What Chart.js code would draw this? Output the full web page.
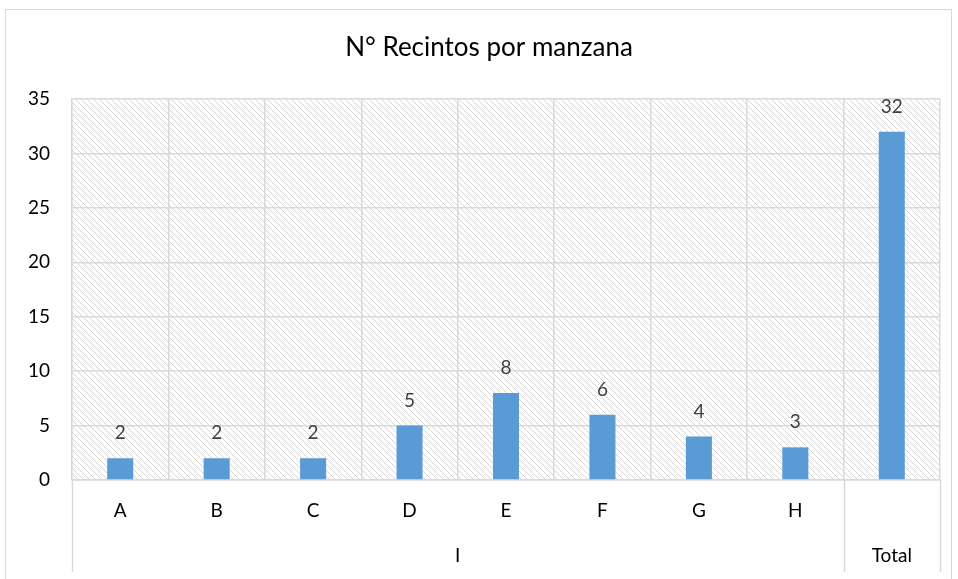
<!DOCTYPE html>
<html>
<head>
<meta charset="utf-8">
<script src="https://cdn.jsdelivr.net/npm/chart.js@4.4.1/dist/chart.umd.min.js"></script>
<style>
  html, body { margin: 0; padding: 0; background: #fff; }
  #wrap { width: 958px; height: 579px; position: relative; }
</style>
</head>
<body>
<div id="wrap"><canvas id="chart"></canvas></div>
<script>
// datos del grafico
const titulo = 'N° Recintos por manzana';
const categorias = ['A', 'B', 'C', 'D', 'E', 'F', 'G', 'H', 'Total'];
const grupos = ['I', 'I', 'I', 'I', 'I', 'I', 'I', 'I', ''];
const recintos = [2, 2, 2, 5, 8, 6, 4, 3, 32];
const ticksY = [0, 5, 10, 15, 20, 25, 30, 35];

const fuente = 'Lato, "Open Sans", sans-serif';
const gris = '#d9d9d9';

// etiquetas de dos lineas: la categoria arriba, "Total" abajo
let etiquetas = categorias.map((c, i) => grupos[i] ? [c, ''] : ['', c]);

// trama diagonal del area de trazado
let hacerTrama = () => {
  let t = document.createElement('canvas');
  t.width = 6; t.height = 6;
  let c = t.getContext('2d');
  c.fillStyle = '#fff';
  c.fillRect(0, 0, 6, 6);
  c.fillStyle = '#d6d6d6';
  for (let i = 0; i < 6; i++) {
    c.fillRect(i, i, 1, 1);
  }
  return c.createPattern(t, 'repeat');
};

let fondo = {
  id: 'fondo',
  beforeDraw(chart) {
    let ctx = chart.ctx;
    let a = chart.chartArea;
    ctx.save();
    ctx.fillStyle = '#fff';
    ctx.fillRect(0, 0, chart.width, chart.height);
    ctx.strokeStyle = gris;
    ctx.lineWidth = 1;
    ctx.strokeRect(5.5, 9.5, 946, 620);
    ctx.fillStyle = chart.$trama;
    ctx.fillRect(a.left, a.top, a.right - a.left, a.bottom - a.top);
    // titulo (centrado sobre el marco del grafico, no sobre el canvas)
    ctx.fillStyle = '#000';
    ctx.font = '26px ' + fuente;
    ctx.textAlign = 'center';
    ctx.textBaseline = 'middle';
    ctx.fillText(titulo, 489, 48);
    ctx.restore();
  }
};

let extras = {
  id: 'extras',
  afterDraw(chart) {
    let ctx = chart.ctx;
    let a = chart.chartArea;
    let x = chart.scales.x;
    let y = chart.scales.y;
    let paso = (a.right - a.left) / categorias.length;
    ctx.save();

    // separadores de grupo debajo del eje
    ctx.strokeStyle = gris;
    ctx.lineWidth = 1.5;
    let inicio = 0;
    let bordes = [a.left];
    for (let i = 1; i <= grupos.length; i++) {
      if (i === grupos.length || grupos[i] !== grupos[inicio]) {
        let izq = x.getPixelForValue(inicio) - paso / 2;
        let der = x.getPixelForValue(i - 1) + paso / 2;
        bordes.push(der);
        if (grupos[inicio]) {
          ctx.fillStyle = '#000';
          ctx.font = '19px ' + fuente;
          ctx.textAlign = 'center';
          ctx.textBaseline = 'middle';
          ctx.fillText(grupos[inicio], (izq + der) / 2, 556);
        }
        inicio = i;
      }
    }
    for (let b of bordes) {
      ctx.beginPath();
      ctx.moveTo(Math.round(b) + 0.5, a.bottom);
      ctx.lineTo(Math.round(b) + 0.5, 572);
      ctx.stroke();
    }

    // valores encima de las barras
    ctx.fillStyle = '#404040';
    ctx.font = '19px ' + fuente;
    ctx.textAlign = 'center';
    ctx.textBaseline = 'middle';
    recintos.forEach((v, i) => {
      ctx.fillText(String(v), x.getPixelForValue(i), y.getPixelForValue(v) - 25);
    });
    ctx.restore();
  }
};

var ctx = document.getElementById('chart').getContext('2d');
var chart = new Chart(ctx, {
  type: 'bar',
  data: {
    labels: etiquetas,
    datasets: [{
      label: 'Recintos',
      data: recintos,
      backgroundColor: '#5b9bd5',
      barPercentage: 0.27,
      categoryPercentage: 1
    }]
  },
  options: {
    responsive: true,
    maintainAspectRatio: false,
    animation: false,
    layout: { padding: { top: 99, left: 0, right: 18, bottom: 7 } },
    plugins: {
      legend: { display: false },
      tooltip: { enabled: false },
      title: { display: false }
    },
    scales: {
      x: {
        grid: { color: gris, lineWidth: 1.5, drawTicks: false, offset: true },
        border: { color: gris, width: 1.5 },
        ticks: {
          color: '#000',
          font: { family: fuente, size: 19, lineHeight: 2.37 },
          padding: 8,
          autoSkip: false,
          maxRotation: 0
        },
        afterFit: (s) => { s.height = 92; }
      },
      y: {
        min: 0,
        max: 35,
        afterBuildTicks: (s) => { s.ticks = ticksY.map(v => ({ value: v })); },
        grid: { color: gris, lineWidth: 1.5, drawTicks: false },
        border: { color: gris, width: 1.5 },
        ticks: {
          color: '#000',
          font: { family: fuente, size: 19 },
          padding: 22
        },
        afterFit: (s) => { s.width = 72; }
      }
    }
  },
  plugins: [fondo, extras]
});
chart.$trama = hacerTrama();
chart.update();
</script>
</body>
</html>
